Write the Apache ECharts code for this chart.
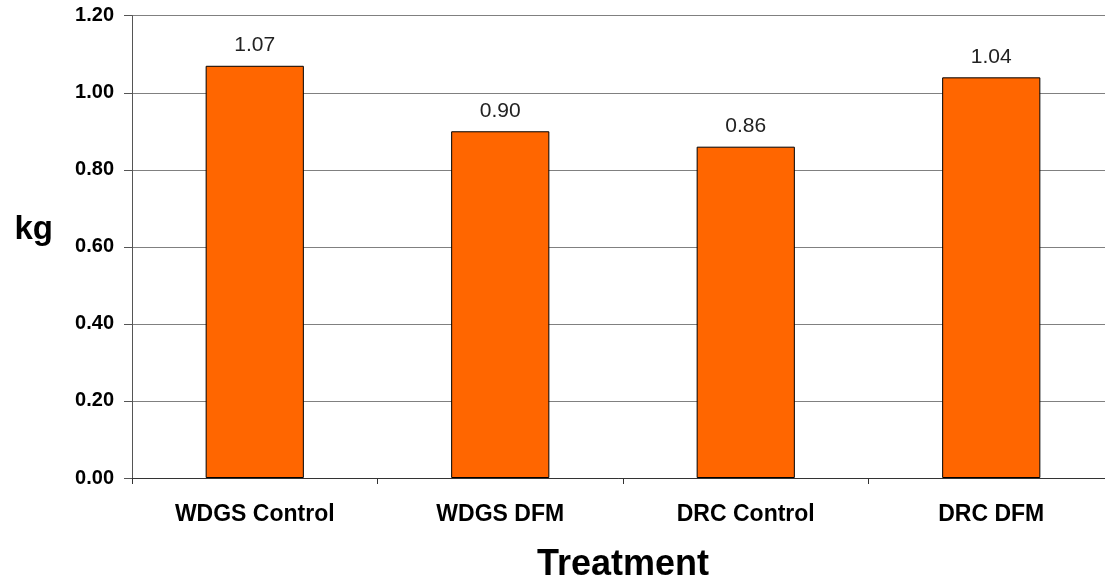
<!DOCTYPE html>
<html>
<head>
  <meta charset="UTF-8">
  <title>Treatment</title>
  <script src="https://cdn.jsdelivr.net/npm/echarts@6/dist/echarts.min.js"></script>
  <style>
    html, body { margin: 0; padding: 0; width: 100%; height: 100%; background: #fff; overflow: hidden; }
    #chart { width: 1105px; height: 581px; }
  </style>
</head>
<body>
  <div id="chart"></div>
  <script>
    // data
    const categories = ['WDGS Control', 'WDGS DFM', 'DRC Control', 'DRC DFM'];
    const values = [1.07, 0.90, 0.86, 1.04];

    const chart = echarts.init(document.getElementById('chart'));
    const font = '"Liberation Sans", Arial, sans-serif';

    chart.setOption({
      animation: false,
      backgroundColor: '#ffffff',
      // the plot runs a little past the right edge of the picture
      grid: {
        left: 132, right: -9, top: 15.7, bottom: 103,
        containLabel: false, outerBoundsMode: 'none'
      },
      xAxis: {
        type: 'category',
        data: categories,
        name: 'Treatment',
        nameLocation: 'middle',
        nameGap: 69,
        nameTextStyle: { fontFamily: font, fontSize: 36, fontWeight: 'bold', color: '#000' },
        axisLine: { lineStyle: { color: '#333', width: 1 } },
        axisTick: { show: true, length: 6, lineStyle: { color: '#333' } },
        axisLabel: { fontFamily: font, fontSize: 23, fontWeight: 'bold', color: '#000', margin: 25 }
      },
      yAxis: {
        type: 'value',
        min: 0, max: 1.2, interval: 0.2,
        name: 'kg',
        nameLocation: 'middle',
        nameRotate: 0,
        nameGap: 79,
        nameTextStyle: {
          fontFamily: font, fontSize: 33, fontWeight: 'bold', color: '#000',
          verticalAlign: 'bottom', padding: [0, 0, 0, 0]
        },
        axisLine: { show: true, lineStyle: { color: '#555', width: 1 } },
        axisTick: { show: true, length: 8, lineStyle: { color: '#555' } },
        splitLine: { lineStyle: { color: '#808080', width: 1 } },
        axisLabel: {
          fontFamily: font, fontSize: 20, fontWeight: 'bold', color: '#000', margin: 18,
          formatter: v => v.toFixed(2)
        }
      },
      series: [{
        type: 'bar',
        data: values,
        barWidth: '40%',
        itemStyle: { color: '#FF6600', borderColor: '#000', borderWidth: 1 },
        label: {
          show: true, position: 'top', distance: 10,
          fontFamily: font, fontSize: 21, color: '#222',
          formatter: p => p.value.toFixed(2)
        }
      }]
    });
  </script>
</body>
</html>
